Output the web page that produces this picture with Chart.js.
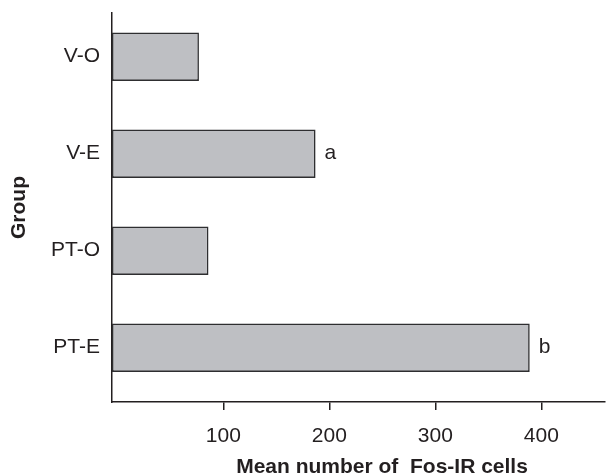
<!DOCTYPE html>
<html>
<head>
<meta charset="utf-8">
<script src="https://cdn.jsdelivr.net/npm/chart.js@4/dist/chart.umd.min.js"></script>
<style>
  html, body { margin: 0; padding: 0; background: #fff; }
  #wrap { width: 608px; height: 476px; }
</style>
</head>
<body>
<div id="wrap"><canvas id="fosChart"></canvas></div>
<script>
const groups = ["V-O", "V-E", "PT-O", "PT-E"];
const meanCells = [77, 187, 86, 389];
const sigLetters = ["", "a", "", "b"];
const xTicks = [100, 200, 300, 400];

const FONT = "'Liberation Sans', Arial, sans-serif";
const INK = "#231f20";

// bars sit on group index positions of a linear y axis (0 = top)
const barPoints = meanCells.map((v, i) => ({ x: v, y: i }));

// letters next to bar ends + x axis title
const annotate = {
    id: "annotate",
    afterDraw(chart) {
        const ctx = chart.ctx;
        const meta = chart.getDatasetMeta(0);
        ctx.save();
        ctx.fillStyle = INK;
        ctx.font = "21px " + FONT;
        ctx.textBaseline = "middle";
        ctx.textAlign = "left";
        meta.data.forEach((bar, i) => {
            if (sigLetters[i]) ctx.fillText(sigLetters[i], bar.x + 9, bar.y);
        });
        ctx.font = "bold 21px " + FONT;
        ctx.textAlign = "center";
        ctx.fillText("Mean number of  Fos-IR cells", 382, 467);
        ctx.restore();
    }
};

new Chart(document.getElementById("fosChart").getContext("2d"), {
    type: "bar",
    data: {
        datasets: [{
            data: barPoints,
            base: -5,
            backgroundColor: "#bebfc3",
            borderColor: "#2e2e30",
            borderWidth: 1.6,
            borderSkipped: false,
            categoryPercentage: 1,
            barPercentage: 0.5
        }]
    },
    options: {
        indexAxis: "y",
        responsive: true,
        maintainAspectRatio: false,
        animation: false,
        layout: { padding: { top: 13, right: 3, left: 0, bottom: 0 } },
        plugins: { legend: { display: false }, tooltip: { enabled: false } },
        scales: {
            x: {
                type: "linear",
                min: -5,
                max: 460,
                afterBuildTicks: scale => { scale.ticks = xTicks.map(v => ({ value: v })); },
                afterFit: scale => {
                    scale.height = 74;
                    scale.paddingLeft = 0;
                    scale.paddingRight = 0;
                },
                grid: { drawOnChartArea: false, drawTicks: true, tickLength: 8, color: INK, lineWidth: 1.5 },
                border: { display: true, color: INK, width: 1.5 },
                ticks: { color: INK, font: { family: FONT, size: 21 }, padding: 14, maxRotation: 0 }
            },
            y: {
                type: "linear",
                reverse: true,
                offset: false,
                min: -0.45,
                max: 3.56,
                afterBuildTicks: scale => { scale.ticks = groups.map((g, i) => ({ value: i })); },
                afterFit: scale => {
                    scale.width = 112;
                    scale.paddingTop = 0;
                    scale.paddingBottom = 0;
                },
                grid: { display: false, drawTicks: false },
                border: { display: true, color: INK, width: 1.5 },
                ticks: {
                    color: INK,
                    font: { family: FONT, size: 21 },
                    padding: 12,
                    callback: v => groups[v]
                },
                title: {
                    display: true,
                    text: "Group",
                    color: INK,
                    font: { family: FONT, size: 21, weight: "bold" },
                    padding: { top: 7, bottom: 0 }
                }
            }
        }
    },
    plugins: [annotate]
});
</script>
</body>
</html>
